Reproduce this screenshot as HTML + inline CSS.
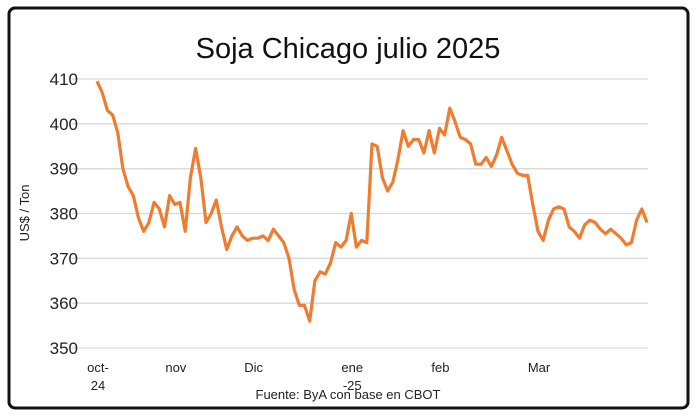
<!DOCTYPE html>
<html><head><meta charset="utf-8"><style>
html,body{margin:0;padding:0;background:#fff;width:696px;height:418px;overflow:hidden}
svg{display:block;font-family:"Liberation Sans",sans-serif}
</style></head><body>
<svg id="c" width="696" height="418">
<rect x="9" y="8" width="679" height="400" rx="6" fill="#fff" stroke="#111" stroke-width="3"/>
<text x="348" y="58" text-anchor="middle" font-size="29" fill="#111">Soja Chicago julio 2025</text>
<text transform="translate(29,213) rotate(-90)" text-anchor="middle" font-size="13" fill="#222">US$ / Ton</text>
<text x="348" y="399" text-anchor="middle" font-size="13" fill="#222">Fuente: ByA con base en CBOT</text>
<g id="grid"></g><g id="ylab"></g><g id="xlab"></g><g id="series"></g>
</svg>
<script>
const yTicks=[350,360,370,380,390,400,410];
const xLabels=["oct-|24","nov","Dic","ene|-25","feb","Mar"];
const xLabelIdx=[0,15,30,49,66,85];
const prices=[409.5,407,403,402,398,390,386,384,379,376,378,382.5,381,377,384,382,382.5,376,388,394.5,388,378,380,383,377,372,375,377,375,374,374.5,374.5,375,374,376.5,375,373.5,370,363,359.5,359.5,356,365,367,366.5,369,373.5,372.5,374,380,372.5,374,373.5,395.5,395,388,385,387,392,398.5,395,396.5,396.5,393.5,398.5,393.5,399,397.5,403.5,400.5,397,396.5,395.5,391,391,392.5,390.5,393,397,394,391,389,388.5,388.5,382,376,374,378.5,381,381.5,381,377,376,374.5,377.5,378.5,378,376.5,375.5,376.5,375.5,374.5,373,373.5,378.5,381,378];
const NS="http://www.w3.org/2000/svg";
const x0=97,x1=647,yTop=79,yBot=348;
const yS=v=>yBot-(v-350)/60*(yBot-yTop);
const xS=i=>x0+i*(x1-x0)/(prices.length-1);
const grid=document.getElementById('grid'),ylab=document.getElementById('ylab'),xlab=document.getElementById('xlab'),ser=document.getElementById('series');
yTicks.forEach(t=>{
 const l=document.createElementNS(NS,'line');
 l.setAttribute('x1',72);l.setAttribute('x2',648);l.setAttribute('y1',yS(t));l.setAttribute('y2',yS(t));
 l.setAttribute('stroke','#d9d9d9');l.setAttribute('stroke-width','1.3');
 
 
 grid.appendChild(l);
 const tx=document.createElementNS(NS,'text');
 tx.setAttribute('x',78);tx.setAttribute('y',yS(t)+6);tx.setAttribute('text-anchor','end');tx.setAttribute('font-size','17');tx.setAttribute('fill','#222');
 tx.textContent=t;
 
 
 ylab.appendChild(tx);
});
xLabels.forEach((s,k)=>{
 const parts=s.split('|');
 const tx=document.createElementNS(NS,'text');
 tx.setAttribute('text-anchor','middle');tx.setAttribute('font-size','13');tx.setAttribute('fill','#222');
 
 
 parts.forEach((p,j)=>{const ts=document.createElementNS(NS,'tspan');ts.setAttribute('x',xS(xLabelIdx[k])+1);ts.setAttribute('y',372+j*18);ts.textContent=p;tx.appendChild(ts);});
 xlab.appendChild(tx);
});
const pl=document.createElementNS(NS,'polyline');
pl.setAttribute('points',prices.map((v,i)=>xS(i).toFixed(1)+','+yS(v).toFixed(1)).join(' '));
pl.setAttribute('fill','none');pl.setAttribute('stroke','#ED7D31');pl.setAttribute('stroke-width','3.2');pl.setAttribute('stroke-linejoin','round');


ser.appendChild(pl);
</script>
</body></html>
